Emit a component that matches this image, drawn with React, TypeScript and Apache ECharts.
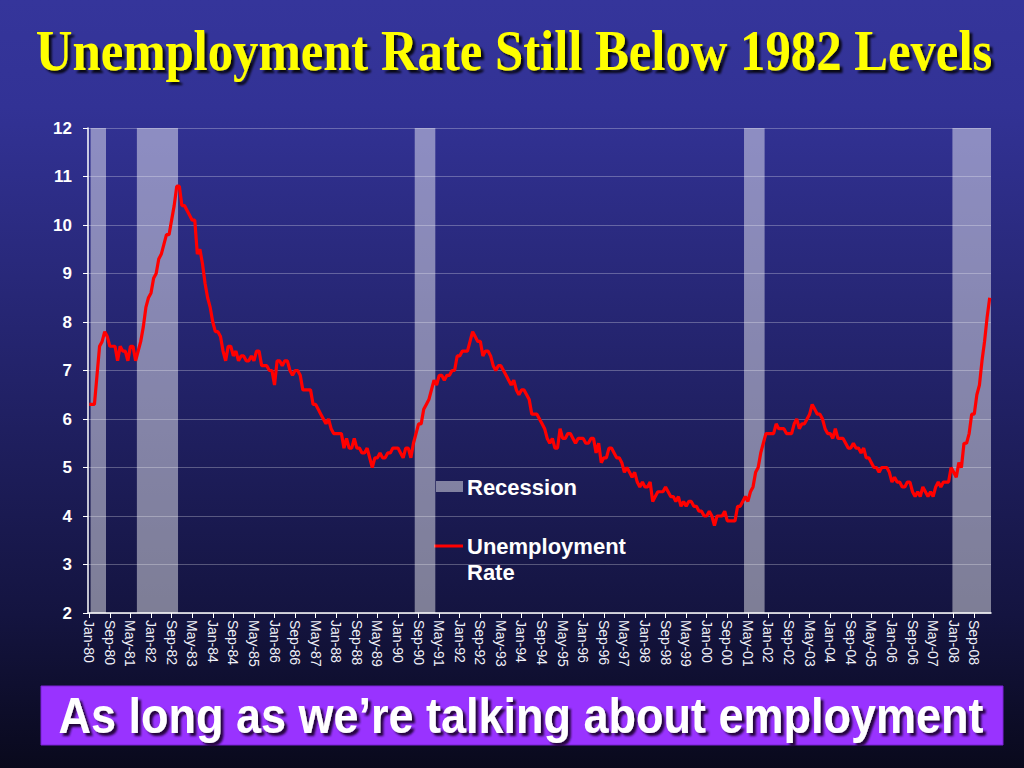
import React, { useEffect, useRef } from "react";
import * as echarts from "echarts";

// ---------- DATA ----------
const monthNames = ["Jan", "Feb", "Mar", "Apr", "May", "Jun", "Jul", "Aug", "Sep", "Oct", "Nov", "Dec"];
const startYear = 1980;

// Monthly unemployment rate (%), Jan-80 .. Mar-09
const rates1980s: number[] = [
  6.3, 6.3, 6.3, 6.9, 7.5, 7.6, 7.8, 7.7, 7.5, 7.5, 7.5, 7.2, // 1980
  7.5, 7.4, 7.4, 7.2, 7.5, 7.5, 7.2, 7.4, 7.6, 7.9, 8.3, 8.5, // 1981
  8.6, 8.9, 9.0, 9.3, 9.4, 9.6, 9.8, 9.8, 10.1, 10.4, 10.8, 10.8, // 1982
  10.4, 10.4, 10.3, 10.2, 10.1, 10.1, 9.4, 9.5, 9.2, 8.8, 8.5, 8.3, // 1983
  8.0, 7.8, 7.8, 7.7, 7.4, 7.2, 7.5, 7.5, 7.3, 7.4, 7.2, 7.3, // 1984
  7.3, 7.2, 7.2, 7.3, 7.2, 7.4, 7.4, 7.1, 7.1, 7.1, 7.0, 7.0, // 1985
  6.7, 7.2, 7.2, 7.1, 7.2, 7.2, 7.0, 6.9, 7.0, 7.0, 6.9, 6.6, // 1986
  6.6, 6.6, 6.6, 6.3, 6.3, 6.2, 6.1, 6.0, 5.9, 6.0, 5.8, 5.7, // 1987
  5.7, 5.7, 5.7, 5.4, 5.6, 5.4, 5.4, 5.6, 5.4, 5.4, 5.3, 5.3, // 1988
  5.4, 5.2, 5.0, 5.2, 5.2, 5.3, 5.2, 5.2, 5.3, 5.3, 5.4, 5.4, // 1989
];
const rates1990s: number[] = [
  5.4, 5.3, 5.2, 5.4, 5.4, 5.2, 5.5, 5.7, 5.9, 5.9, 6.2, 6.3, // 1990
  6.4, 6.6, 6.8, 6.7, 6.9, 6.9, 6.8, 6.9, 6.9, 7.0, 7.0, 7.3, // 1991
  7.3, 7.4, 7.4, 7.4, 7.6, 7.8, 7.7, 7.6, 7.6, 7.3, 7.4, 7.4, // 1992
  7.3, 7.1, 7.0, 7.1, 7.1, 7.0, 6.9, 6.8, 6.7, 6.8, 6.6, 6.5, // 1993
  6.6, 6.6, 6.5, 6.4, 6.1, 6.1, 6.1, 6.0, 5.9, 5.8, 5.6, 5.5, // 1994
  5.6, 5.4, 5.4, 5.8, 5.6, 5.6, 5.7, 5.7, 5.6, 5.5, 5.6, 5.6, // 1995
  5.6, 5.5, 5.5, 5.6, 5.6, 5.3, 5.5, 5.1, 5.2, 5.2, 5.4, 5.4, // 1996
  5.3, 5.2, 5.2, 5.1, 4.9, 5.0, 4.9, 4.8, 4.9, 4.7, 4.6, 4.7, // 1997
  4.6, 4.6, 4.7, 4.3, 4.4, 4.5, 4.5, 4.5, 4.6, 4.5, 4.4, 4.4, // 1998
  4.3, 4.4, 4.2, 4.3, 4.2, 4.3, 4.3, 4.2, 4.2, 4.1, 4.1, 4.0, // 1999
];
const rates2000s: number[] = [
  4.0, 4.1, 4.0, 3.8, 4.0, 4.0, 4.0, 4.1, 3.9, 3.9, 3.9, 3.9, // 2000
  4.2, 4.2, 4.3, 4.4, 4.3, 4.5, 4.6, 4.9, 5.0, 5.3, 5.5, 5.7, // 2001
  5.7, 5.7, 5.7, 5.9, 5.8, 5.8, 5.8, 5.7, 5.7, 5.7, 5.9, 6.0, // 2002
  5.8, 5.9, 5.9, 6.0, 6.1, 6.3, 6.2, 6.1, 6.1, 6.0, 5.8, 5.7, // 2003
  5.7, 5.6, 5.8, 5.6, 5.6, 5.6, 5.5, 5.4, 5.4, 5.5, 5.4, 5.4, // 2004
  5.3, 5.4, 5.2, 5.2, 5.1, 5.0, 5.0, 4.9, 5.0, 5.0, 5.0, 4.9, // 2005
  4.7, 4.8, 4.7, 4.7, 4.6, 4.6, 4.7, 4.7, 4.5, 4.4, 4.5, 4.4, // 2006
  4.6, 4.5, 4.4, 4.5, 4.4, 4.6, 4.7, 4.6, 4.7, 4.7, 4.7, 5.0, // 2007
  4.9, 4.8, 5.1, 5.0, 5.5, 5.5, 5.7, 6.1, 6.1, 6.5, 6.7, 7.2, // 2008
  7.6, 8.1, 8.5, // 2009
];
const unemploymentRate: number[] = [...rates1980s, ...rates1990s, ...rates2000s];

// Recession periods (first and last month shaded)
const recessions: [string, string][] = [
  ["Feb-80", "Jul-80"],
  ["Aug-81", "Nov-82"],
  ["Aug-90", "Mar-91"],
  ["Apr-01", "Nov-01"],
  ["Jan-08", "Mar-09"],
];

const yTicks = [2, 3, 4, 5, 6, 7, 8, 9, 10, 11, 12];

const titleText = "Unemployment Rate Still Below 1982 Levels";
const subtitleText = "As long as we\u2019re talking about employment";
const legendRecession = "Recession";
const legendRate = "Unemployment\nRate";

// category labels built from the month list
const months: string[] = unemploymentRate.map((_, i) => {
  const y = startYear + Math.floor(i / 12);
  return `${monthNames[i % 12]}-${String(y % 100).padStart(2, "0")}`;
});

const bandColor = "rgba(255,255,255,0.45)";

export default function App() {
  const ref = useRef<HTMLDivElement>(null);

  useEffect(() => {
    if (!ref.current) return;
    const chart = echarts.init(ref.current, undefined, { renderer: "svg" });
    const yMin = yTicks[0];
    const yMax = yTicks[yTicks.length - 1];
    const recessionData = recessions.map(([a, b]) => [months.indexOf(a), months.indexOf(b)]);

    chart.setOption({
      animation: false,
      backgroundColor: new echarts.graphic.LinearGradient(0, 0, 0, 1, [
        { offset: 0, color: "#35359b" },
        { offset: 0.14, color: "#323295" },
        { offset: 0.45, color: "#24246e" },
        { offset: 0.8, color: "#141440" },
        { offset: 1, color: "#09091c" },
      ]),
      grid: { left: 88, right: 33, top: 128, bottom: 155 },
      xAxis: {
        type: "category",
        data: months,
        boundaryGap: true,
        axisLine: { show: true, lineStyle: { color: "#ffffff", width: 1.5 } },
        axisTick: { show: true, interval: 7, alignWithLabel: true, length: 5, lineStyle: { color: "#ffffff" } },
        axisLabel: {
          interval: 7,
          rotate: -90,
          color: "#f0f0f8",
          fontFamily: "Liberation Sans, Arial, sans-serif",
          fontSize: 14,
          margin: 7,
        },
        splitLine: { show: false },
      },
      yAxis: {
        type: "value",
        min: yMin,
        max: yMax,
        interval: 1,
        axisLine: { show: true, lineStyle: { color: "#ffffff", width: 1.5 } },
        axisTick: { show: true, length: 5, lineStyle: { color: "#ffffff" } },
        axisLabel: {
          color: "#ffffff",
          fontFamily: "Liberation Sans, Arial, sans-serif",
          fontWeight: "bold",
          fontSize: 17,
          margin: 16,
        },
        splitLine: { show: true, lineStyle: { color: "rgba(255,255,255,0.28)", width: 1 } },
      },
      series: [
        {
          name: legendRecession,
          type: "custom",
          data: recessionData,
          encode: { x: [0, 1] },
          z: 1,
          renderItem: (params: any, api: any) => {
            const s = api.value(0);
            const e = api.value(1);
            const p0 = api.coord([s, yMax]);
            const p1 = api.coord([e, yMin]);
            const w = api.size([1, 0])[0];
            return {
              type: "rect",
              shape: { x: p0[0] - w / 2, y: p0[1], width: p1[0] - p0[0] + w, height: p1[1] - p0[1] },
              style: { fill: bandColor },
            };
          },
        },
        {
          name: "Unemployment Rate",
          type: "line",
          data: unemploymentRate,
          symbol: "none",
          z: 3,
          lineStyle: { color: "#ff0000", width: 3.2 },
        },
      ],
      graphic: [
        {
          type: "text",
          x: 514,
          y: 51,
          scaleX: 0.89,
          style: {
            text: titleText,
            fill: "#ffff00",
            font: "bold 57px 'Liberation Serif', 'Times New Roman', serif",
            align: "center",
            verticalAlign: "middle",
            textShadowColor: "rgba(0,0,0,0.85)",
            textShadowBlur: 2,
            textShadowOffsetX: 3,
            textShadowOffsetY: 3,
          },
        },
        // legend
        {
          type: "rect",
          shape: { x: 436, y: 481, width: 27, height: 11 },
          style: { fill: bandColor },
        },
        {
          type: "text",
          x: 467,
          y: 487,
          style: {
            text: legendRecession,
            fill: "#ffffff",
            font: "bold 22px 'Liberation Sans', Arial, sans-serif",
            verticalAlign: "middle",
          },
        },
        {
          type: "line",
          shape: { x1: 434, y1: 546, x2: 463, y2: 546 },
          style: { stroke: "#ff0000", lineWidth: 3 },
        },
        {
          type: "text",
          x: 467,
          y: 533,
          style: {
            text: legendRate,
            fill: "#ffffff",
            font: "bold 22px 'Liberation Sans', Arial, sans-serif",
            lineHeight: 26,
            verticalAlign: "top",
          },
        },
        // subtitle box
        {
          type: "rect",
          shape: { x: 41, y: 686, width: 962, height: 59 },
          style: { fill: "#9933ff", stroke: "#7a22d6", lineWidth: 1 },
        },
        {
          type: "text",
          x: 521,
          y: 716,
          scaleX: 0.9,
          style: {
            text: subtitleText,
            fill: "#ffffff",
            font: "bold 50px 'Liberation Sans', Arial, sans-serif",
            align: "center",
            verticalAlign: "middle",
            textShadowColor: "rgba(20,0,40,0.9)",
            textShadowBlur: 2,
            textShadowOffsetX: 3,
            textShadowOffsetY: 3,
          },
        },
      ],
    });

    return () => chart.dispose();
  }, []);

  return (
    <div
      ref={ref}
      style={{ position: "fixed", left: 0, top: 0, width: 1024, height: 768 }}
    />
  );
}
